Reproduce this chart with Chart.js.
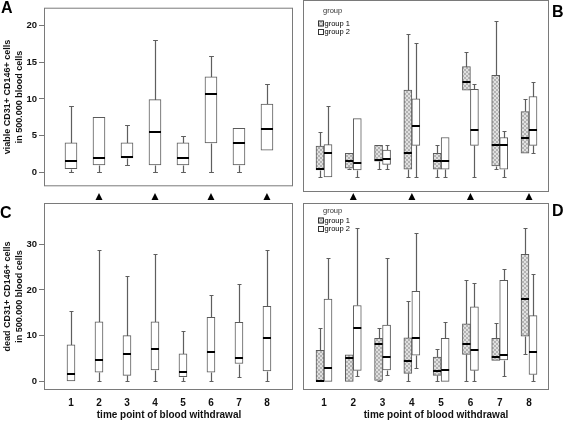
<!DOCTYPE html>
<html>
<head>
<meta charset="utf-8">
<script src="https://cdn.jsdelivr.net/npm/chart.js@4.4.1/dist/chart.umd.min.js"></script>
<style>
  body { margin: 0; background: #fff; }
  #wrap { position: relative; width: 565px; height: 422px; overflow: hidden; font-family: 'Liberation Sans', Arial, sans-serif; }
  #wrap canvas { position: absolute; }
  .letter { position: absolute; font-weight: bold; font-size: 16px; line-height: 16px; color: #000; }
  .xtitle { position: absolute; width: 200px; text-align: center; font-weight: bold; font-size: 10px; line-height: 12px; color: #111; }
</style>
</head>
<body>
<div id="wrap">
  <canvas id="chartA" width="295" height="194" style="left:0;top:0"></canvas>
  <canvas id="chartB" width="270" height="194" style="left:295px;top:0"></canvas>
  <canvas id="chartC" width="295" height="232" style="left:0;top:190px"></canvas>
  <canvas id="chartD" width="270" height="232" style="left:295px;top:190px"></canvas>
  <div class="letter" style="left:1px;top:0">A</div>
  <div class="letter" style="left:552px;top:4px">B</div>
  <div class="letter" style="left:0;top:205px">C</div>
  <div class="letter" style="left:552px;top:203px">D</div>
  <div class="xtitle" style="left:69px;top:409px">time point of blood withdrawal</div>
  <div class="xtitle" style="left:336px;top:409px">time point of blood withdrawal</div>
</div>
<script>
// Zeitpunkte der Blutabnahme
const timePoints = [1, 2, 3, 4, 5, 6, 7, 8];
const markedTimes = [2, 4, 6, 8];
const groupLabels = ['group 1', 'group 2'];
const viableTicks = [0, 5, 10, 15, 20];
const deadTicks = [0, 10, 20, 30];

// A: viable, alle Patienten
const viableAllMin = [0, 0, 1, 0, 0, 0, 0, 3];
const viableAllQ1  = [0.5, 1, 1.95, 1, 1, 4, 1, 3];
const viableAllMed = [1.6, 2, 2.1, 5.5, 2, 10.7, 4, 5.9];
const viableAllQ3  = [4, 7.5, 4, 9.9, 4, 13, 6, 9.3];
const viableAllMax = [9, 7.5, 6.4, 18, 5, 15.9, 6, 12];

// B: viable, group 1
const viableG1Min = [0, 1, 1, 0, 0, 11, 1, 3];
const viableG1Q1  = [0.9, 1.1, 2, 1, 1, 11, 1.4, 3];
const viableG1Med = [1, 2, 2.1, 3, 2, 12, 4, 4.9];
const viableG1Q3  = [3.9, 3, 4, 11, 3, 14, 12.9, 8.3];
const viableG1Max = [5.7, 3, 4, 18.1, 4, 15.8, 19.8, 9.9];
// B: viable, group 2
const viableG2Min = [0, 0, 1, 0, 0, 0, 0, 3];
const viableG2Q1  = [0, 0.9, 1.6, 4, 1, 4, 1, 4];
const viableG2Med = [3, 1.8, 2.3, 6.4, 2, 5.9, 4, 5.9];
const viableG2Q3  = [4.1, 7.4, 3.4, 9.9, 5, 11.1, 5, 10.2];
const viableG2Max = [9, 7.4, 4, 17, 5, 11.8, 5.85, 12];

// C: dead, alle Patienten
const deadAllMin = [0, 0, 0, 0, 0, 0, 1, 0];
const deadAllQ1  = [0, 2, 1.3, 2.5, 1, 2, 3.9, 2.3];
const deadAllMed = [1.6, 4.7, 6, 7, 2, 6.5, 5, 9.5];
const deadAllQ3  = [8, 13, 10, 13, 6, 14, 12.9, 16.4];
const deadAllMax = [15.5, 28.8, 23.1, 27.9, 11, 19, 21.2, 28.8];

// D: dead, group 1
const deadG1Min = [0, 0, 0, 0, 0, 0, 4.6, 5.9];
const deadG1Q1  = [0, 0, 0.2, 1.75, 1.3, 5.9, 4.6, 9.9];
const deadG1Med = [0.1, 5.2, 8.2, 4.4, 2.3, 8.2, 5.3, 18.1];
const deadG1Q3  = [6.8, 5.8, 9.4, 9.5, 5.3, 12.6, 9.4, 27.8];
const deadG1Max = [11.75, 5.8, 11.75, 17.6, 7.1, 22.1, 12.85, 33.5];
// D: dead, group 2
const deadG2Min = [0, 1.2, 1.3, 2.9, 0, 0, 1.2, 0];
const deadG2Q1  = [0, 2.4, 2.5, 5.7, 0, 2.4, 4.7, 1.5];
const deadG2Med = [3, 11.6, 5.3, 9.5, 2.4, 6.9, 5.8, 6.4];
const deadG2Q3  = [18, 16.6, 12.3, 19.7, 9.4, 16.3, 22.1, 14.4];
const deadG2Max = [26.9, 33.6, 26.9, 32.5, 12.9, 21.6, 24.5, 23.4];

const FONT = "'Liberation Sans', Arial, sans-serif";
const BOX_BORDER = '#5a5a5a';
const WHISKER = '#5e5e5e';
const FRAME = '#7a7a7a';

// schraffiertes Muster fuer group 1
function makeHatch() {
  const c = document.createElement('canvas');
  c.width = 4; c.height = 4;
  const g = c.getContext('2d');
  g.fillStyle = '#e0e0e0';
  g.fillRect(0, 0, 4, 4);
  g.fillStyle = '#b2b2b2';
  [[0,0],[1,1],[2,2],[3,3],[3,0],[2,1],[1,2],[0,3]].forEach(p => g.fillRect(p[0], p[1], 1, 1));
  return g.createPattern(c, 'repeat');
}
const hatch = makeHatch();

function boxSet(label, min, q1, med, q3, max, fill, thickness) {
  return {
    label: label,
    data: timePoints.map((t, i) => ({ x: t, y: [q1[i], q3[i]] })),
    mins: min, meds: med, maxs: max, q1s: q1, q3s: q3,
    backgroundColor: fill,
    borderColor: BOX_BORDER,
    borderWidth: 1,
    borderSkipped: false,
    barThickness: thickness
  };
}

// Rahmen um die Plotflaeche
const framePlugin = {
  id: 'frame',
  beforeDatasetsDraw(chart) {
    const { ctx, chartArea: a } = chart;
    ctx.save();
    ctx.strokeStyle = FRAME;
    ctx.lineWidth = 1;
    ctx.strokeRect(a.left + 0.5, a.top + 0.5, a.right - a.left - 1, a.bottom - a.top - 1);
    ctx.restore();
  }
};

// Whisker + Median
function whisker(ctx, x, yEdge, yEnd, cap) {
  if (Math.abs(yEdge - yEnd) < 1) return;
  ctx.beginPath();
  ctx.moveTo(x, yEdge);
  ctx.lineTo(x, yEnd);
  ctx.moveTo(x - cap, yEnd);
  ctx.lineTo(x + cap, yEnd);
  ctx.stroke();
}

const boxPlugin = {
  id: 'boxWhiskers',
  beforeDatasetsDraw(chart) {
    const ctx = chart.ctx;
    const y = chart.scales.y;
    ctx.save();
    ctx.strokeStyle = WHISKER;
    ctx.lineWidth = 1.2;
    chart.data.datasets.forEach((ds, di) => {
      chart.getDatasetMeta(di).data.forEach((bar, i) => {
        const x = Math.round(bar.x) + 0.5;
        const cap = Math.max(2, bar.width * 0.2);
        const py = v => Math.round(y.getPixelForValue(v)) + 0.5;
        whisker(ctx, x, py(ds.q3s[i]), py(ds.maxs[i]), cap);
        whisker(ctx, x, py(ds.q1s[i]), py(ds.mins[i]), cap);
      });
    });
    ctx.restore();
  },
  afterDatasetsDraw(chart) {
    const ctx = chart.ctx;
    const y = chart.scales.y;
    ctx.save();
    ctx.strokeStyle = '#000';
    ctx.lineWidth = 2;
    chart.data.datasets.forEach((ds, di) => {
      chart.getDatasetMeta(di).data.forEach((bar, i) => {
        const py = Math.round(y.getPixelForValue(ds.meds[i]));
        ctx.beginPath();
        ctx.moveTo(bar.x - bar.width / 2, py);
        ctx.lineTo(bar.x + bar.width / 2, py);
        ctx.stroke();
      });
    });
    ctx.restore();
  }
};

// kleine Legende "group"
const legendPlugin = {
  id: 'groupLegend',
  afterDraw(chart, args, opts) {
    if (!opts.rows) return;
    const { ctx, chartArea: a } = chart;
    ctx.save();
    ctx.textBaseline = 'middle';
    ctx.textAlign = 'left';
    ctx.font = '7.5px ' + FONT;
    ctx.fillStyle = '#333';
    ctx.fillText('group', a.left + 20, a.top + opts.rows[0]);
    chart.data.datasets.forEach((ds, i) => {
      const yc = a.top + opts.rows[i + 1];
      ctx.fillStyle = ds.backgroundColor;
      ctx.fillRect(a.left + 15, yc - 3, 5, 6);
      ctx.strokeStyle = '#333';
      ctx.lineWidth = 1;
      ctx.strokeRect(a.left + 15.5, yc - 2.5, 5, 5);
      ctx.fillStyle = '#000';
      ctx.fillText(ds.label, a.left + 21.5, yc);
    });
    ctx.restore();
  }
};

// Dreiecke ueber den unteren Panels
const markerPlugin = {
  id: 'markers',
  afterDraw(chart, args, opts) {
    if (!opts.times) return;
    const { ctx, chartArea: a } = chart;
    const x = chart.scales.x;
    ctx.save();
    ctx.fillStyle = '#000';
    opts.times.forEach(t => {
      const px = x.getPixelForValue(t);
      ctx.beginPath();
      ctx.moveTo(px, a.top - 10);
      ctx.lineTo(px + 3.5, a.top - 3);
      ctx.lineTo(px - 3.5, a.top - 3);
      ctx.closePath();
      ctx.fill();
    });
    ctx.restore();
  }
};

function yAxis(cfg) {
  if (!cfg.labels) return { display: false, min: cfg.min, max: cfg.max };
  return {
    min: cfg.min, max: cfg.max,
    afterBuildTicks: s => { s.ticks = cfg.ticks.map(v => ({ value: v })); },
    afterFit: s => { s.width = 44; },
    grid: { drawOnChartArea: false, drawTicks: true, tickLength: 5, color: '#777' },
    border: { display: false },
    ticks: { font: { family: FONT, size: 9.5, weight: 'bold' }, color: '#111', padding: 2 },
    title: {
      display: true, text: cfg.title, color: '#111',
      font: { family: FONT, size: 9, weight: 'bold', lineHeight: 1.33 },
      padding: { top: 2, bottom: 0 }
    }
  };
}

function xAxis(cfg) {
  const ax = { type: 'linear', min: cfg.min, max: cfg.max, offset: false };
  if (!cfg.labels) { ax.display = false; return ax; }
  return Object.assign(ax, {
    afterBuildTicks: s => { s.ticks = timePoints.map(v => ({ value: v })); },
    afterFit: s => { s.height = 32; },
    grid: { display: false, drawTicks: false },
    border: { display: false },
    ticks: { font: { family: FONT, size: 10, weight: 'bold' }, color: '#111', padding: 7.5, maxRotation: 0, autoSkip: false }
  });
}

function makePanel(id, cfg) {
  return new Chart(document.getElementById(id), {
    type: 'bar',
    data: { datasets: cfg.datasets },
    options: {
      responsive: false,
      animation: false,
      events: [],
      layout: { padding: cfg.padding },
      plugins: {
        legend: { display: false },
        tooltip: { enabled: false },
        groupLegend: { rows: cfg.legendRows || null },
        markers: { times: cfg.markers || null }
      },
      scales: { x: cfg.x, y: cfg.y }
    },
    plugins: [framePlugin, boxPlugin, legendPlugin, markerPlugin]
  });
}

const xLeft = { min: 0.036, max: 8.93 };
const xRight = { min: 0.283, max: 8.683 };
const yViable = { min: -1.91, max: 22.44 };
const yDead = { min: -1.9, max: 39.04 };

makePanel('chartA', {
  padding: { left: 0, top: 0, right: 2, bottom: 2 },
  datasets: [boxSet('all', viableAllMin, viableAllQ1, viableAllMed, viableAllQ3, viableAllMax, '#fff', 12)],
  x: xAxis({ ...xLeft, labels: false }),
  y: yAxis({ ...yViable, labels: true, ticks: viableTicks, title: ['viable CD31+ CD146+ cells', 'in 500.000 blood cells'] })
});

makePanel('chartB', {
  padding: { left: 8, top: 0, right: 16, bottom: 2 },
  datasets: [
    boxSet(groupLabels[0], viableG1Min, viableG1Q1, viableG1Med, viableG1Q3, viableG1Max, hatch, 8),
    boxSet(groupLabels[1], viableG2Min, viableG2Q1, viableG2Med, viableG2Q3, viableG2Max, '#fff', 8)
  ],
  legendRows: [10.5, 23.5, 32],
  x: xAxis({ ...xRight, labels: false }),
  y: yAxis({ ...yViable, labels: false })
});

makePanel('chartC', {
  padding: { left: 0, top: 13, right: 2, bottom: 0 },
  datasets: [boxSet('all', deadAllMin, deadAllQ1, deadAllMed, deadAllQ3, deadAllMax, '#fff', 8)],
  markers: markedTimes,
  x: xAxis({ ...xLeft, labels: true }),
  y: yAxis({ ...yDead, labels: true, ticks: deadTicks, title: ['dead CD31+ CD146+ cells', 'in 500.000 blood cells'] })
});

makePanel('chartD', {
  padding: { left: 8, top: 13, right: 16, bottom: 0 },
  datasets: [
    boxSet(groupLabels[0], deadG1Min, deadG1Q1, deadG1Med, deadG1Q3, deadG1Max, hatch, 8),
    boxSet(groupLabels[1], deadG2Min, deadG2Q1, deadG2Med, deadG2Q3, deadG2Max, '#fff', 8)
  ],
  legendRows: [7.5, 17.5, 26],
  markers: markedTimes,
  x: xAxis({ ...xRight, labels: true }),
  y: yAxis({ ...yDead, labels: false })
});
</script>
</body>
</html>
